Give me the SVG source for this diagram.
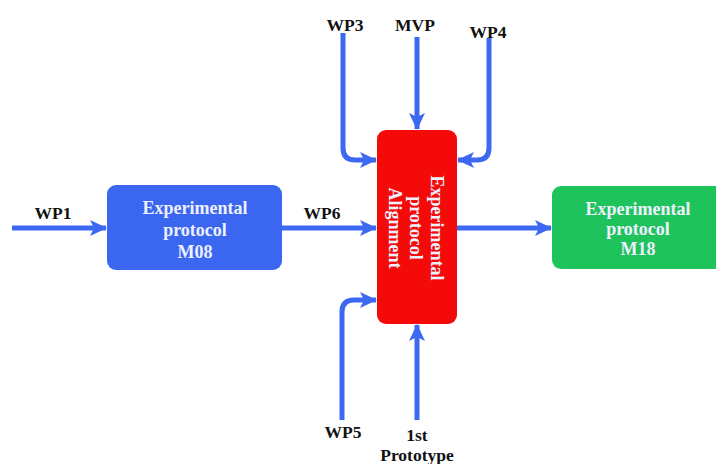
<svg xmlns="http://www.w3.org/2000/svg" width="716" height="464" viewBox="0 0 716 464">
  <style>
    .lbl { font-family: "Liberation Serif", "Times New Roman", serif; font-weight: bold; font-size: 17.5px; fill: #111; text-anchor: middle; }
    .box-txt { font-family: "Liberation Serif", "Times New Roman", serif; font-weight: bold; font-size: 18px; fill: #eef0ff; text-anchor: middle; }
    .flow { fill: none; stroke: #3d68f2; stroke-width: 5; marker-end: url(#head); }
  </style>
  <defs>
    <marker id="head" markerUnits="userSpaceOnUse" markerWidth="20" markerHeight="20" viewBox="0 0 20 20" refX="17" refY="10" orient="auto">
      <path d="M1,2 L18,10 L1,18 L5,10 Z" fill="#3d68f2"/>
    </marker>
  </defs>

  <rect width="716" height="464" fill="#ffffff"/>

  <!-- connectors -->
  <g id="connectors">
    <path class="flow" d="M12,228 H106"/>
    <path class="flow" d="M282,228 H376"/>
    <path class="flow" d="M457,228 H551"/>
    <path class="flow" d="M343,33 V148 Q343,160 355,160 H376"/>
    <path class="flow" d="M417,37 V129"/>
    <path class="flow" d="M489,38 V148 Q489,160 477,160 H458"/>
    <path class="flow" d="M342,420 V312 Q342,300 354,300 H376"/>
    <path class="flow" d="M417,420 V325"/>
  </g>

  <!-- edge labels -->
  <g id="labels">
    <text class="lbl" x="53" y="219">WP1</text>
    <text class="lbl" x="322" y="219">WP6</text>
    <text class="lbl" x="345" y="31">WP3</text>
    <text class="lbl" x="415" y="31">MVP</text>
    <text class="lbl" x="488" y="38">WP4</text>
    <text class="lbl" x="343" y="438">WP5</text>
    <text class="lbl" x="417" y="441">1st</text>
    <text class="lbl" x="417" y="461">Prototype</text>
  </g>

  <g id="protocol-m08">
    <rect x="107" y="185" width="175" height="85" rx="9" fill="#3a66f0"/>
    <text class="box-txt" x="195" y="214">Experimental</text>
    <text class="box-txt" x="195" y="236">protocol</text>
    <text class="box-txt" x="195" y="258">M08</text>
  </g>

  <g id="protocol-alignment">
    <rect x="377" y="130" width="80" height="194" rx="9" fill="#f50a0a"/>
    <g transform="translate(417,228) rotate(90)">
      <text class="box-txt" x="0" y="-14">Experimental</text>
      <text class="box-txt" x="0" y="7">protocol</text>
      <text class="box-txt" x="0" y="28">Alignment</text>
    </g>
  </g>

  <g id="protocol-m18">
    <rect x="552" y="186" width="175" height="83" rx="9" fill="#1ec35c"/>
    <text class="box-txt" x="638" y="215">Experimental</text>
    <text class="box-txt" x="638" y="235">protocol</text>
    <text class="box-txt" x="638" y="255">M18</text>
  </g>
</svg>
